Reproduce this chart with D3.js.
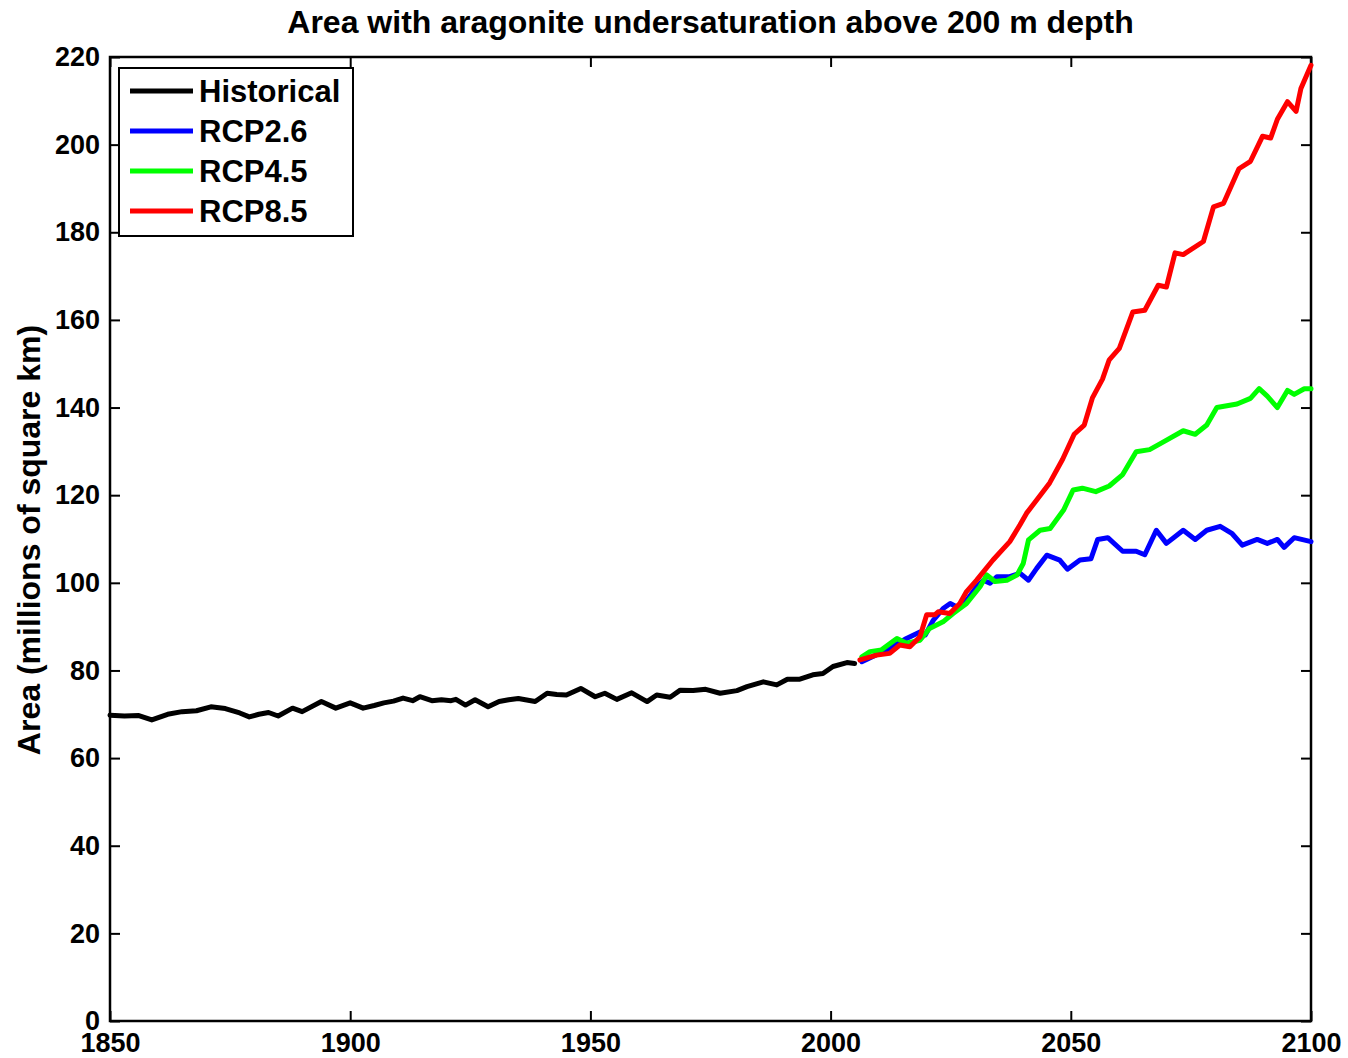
<!DOCTYPE html>
<html>

<head>
  <meta charset="utf-8">
  <title>Aragonite undersaturation area</title>
  <style>
    body { margin: 0; background: #fff; }
    text { font-family: "Liberation Sans", Arial, sans-serif; font-weight: bold; fill: #000; }
  </style>
</head>

<body>
  <script src="https://d3js.org/d3.v7.min.js"></script>
  <script>
    // values: [year, millions of square km]
    var historical = [
      [1850, 69.8], [1853, 69.6], [1856, 69.7], [1858.7, 68.7], [1862, 70.0], [1865, 70.6],
      [1868, 70.8], [1871, 71.7], [1874, 71.3], [1877, 70.3], [1879, 69.4], [1881, 70.0],
      [1883, 70.4], [1885, 69.6], [1888, 71.4], [1890, 70.6], [1894, 72.9], [1897, 71.4],
      [1900, 72.6], [1902.7, 71.4], [1905, 72.0], [1907, 72.6], [1909, 73.0], [1911, 73.7],
      [1913, 73.1], [1914.5, 74.0], [1917, 73.1], [1919, 73.3], [1921, 73.1], [1922, 73.4],
      [1924, 72.1], [1926, 73.3], [1928.7, 71.7], [1931, 72.9], [1933, 73.3], [1935, 73.6],
      [1938.5, 72.9], [1941, 74.8], [1943, 74.5], [1945, 74.4], [1948, 75.9], [1951, 74.0],
      [1953, 74.8], [1955.5, 73.4], [1958.6, 74.9], [1961.8, 72.9], [1963.8, 74.4], [1966.6, 73.9],
      [1968.7, 75.5], [1971.4, 75.4], [1974, 75.7], [1977, 74.8], [1980.5, 75.4], [1982.6, 76.3],
      [1986, 77.4], [1988.8, 76.7], [1991, 78.0], [1993.6, 78.0], [1996.3, 79.0], [1998.4, 79.3],
      [2000.5, 80.9], [2003.4, 81.8], [2005, 81.6]
    ];
    var rcp26 = [
      [2006.5, 82.0], [2011.7, 84.7], [2015.8, 87.3], [2018.6, 88.8], [2019.7, 88.1], [2021.4, 91.5],
      [2023.5, 94.2], [2024.9, 95.3], [2026.3, 94.5], [2028.4, 96.1], [2030.4, 99.1], [2031.8, 100.6],
      [2033.2, 99.9], [2034.6, 101.4], [2037.3, 101.4], [2039.4, 102.2], [2041.2, 100.6], [2042.9, 103.3],
      [2045, 106.3], [2047.7, 105.2], [2049.3, 103.1], [2051.9, 105.2], [2054.2, 105.5], [2055.6, 109.9],
      [2057.7, 110.3], [2060.8, 107.2], [2063.6, 107.2], [2065.4, 106.4], [2067.8, 112.0], [2069.9, 109.0],
      [2073.4, 112.0], [2075.9, 109.9], [2078.3, 112.0], [2081.1, 112.9], [2083.6, 111.2], [2085.7, 108.6],
      [2088.8, 109.9], [2090.9, 109.0], [2093, 109.9], [2094.4, 108.1], [2096.5, 110.3], [2100, 109.4]
    ];
    var rcp45 = [
      [2006.5, 83.1], [2008.2, 84.3], [2010.6, 84.7], [2013.8, 87.3], [2015.8, 86.2], [2018.6, 86.9],
      [2020.6, 89.6], [2023.4, 91.1], [2025.5, 93.0], [2028.3, 95.3], [2031.1, 99.1], [2032.5, 101.8],
      [2034.2, 100.3], [2036.7, 100.6], [2038.8, 101.8], [2040.1, 104.4], [2041.2, 109.8], [2043.6, 112.0],
      [2045.7, 112.4], [2048.5, 116.6], [2050.5, 121.2], [2052.4, 121.6], [2055.2, 120.8], [2058, 122.1],
      [2060.8, 124.7], [2063.6, 129.9], [2066.4, 130.4], [2069.2, 132.1], [2073.4, 134.7], [2075.9, 133.9],
      [2078.3, 136.0], [2080.4, 140.0], [2084.6, 140.8], [2087.4, 142.1], [2089.2, 144.3], [2090.9, 142.6],
      [2093, 140.0], [2095.1, 143.9], [2096.5, 143.0], [2098.6, 144.3], [2100, 144.3]
    ];
    var rcp85 = [
      [2006.1, 82.4], [2009.6, 83.5], [2012.3, 83.9], [2014.4, 85.8], [2016.5, 85.4], [2018.6, 87.7],
      [2020, 92.7], [2021.7, 92.7], [2022.4, 93.4], [2024.8, 93.0], [2026.9, 95.3], [2028.3, 98.0],
      [2030.4, 100.6], [2033.8, 105.2], [2037.3, 109.4], [2039.4, 113.2], [2040.8, 115.9], [2042.9, 118.9],
      [2045.6, 122.8], [2048.3, 128.2], [2050.7, 133.9], [2052.8, 136.0], [2054.5, 142.2], [2056.6, 146.5],
      [2058, 150.9], [2060.1, 153.5], [2062.9, 161.8], [2065.4, 162.2], [2068.2, 167.9], [2069.9, 167.5],
      [2071.7, 175.3], [2073.4, 174.9], [2077.6, 177.9], [2079.7, 185.8], [2081.8, 186.6], [2085, 194.5],
      [2087.4, 196.2], [2089.9, 201.9], [2091.6, 201.5], [2093, 205.8], [2095.1, 209.8], [2096.9, 207.6],
      [2097.9, 212.8], [2100, 218.1]
    ];

    var seriesNames = ["Historical", "RCP2.6", "RCP4.5", "RCP8.5"];
    var seriesColors = ["#000000", "#0000ff", "#00ff00", "#ff0000"];
    var xTicks = [1850, 1900, 1950, 2000, 2050, 2100];
    var yTicks = [0, 20, 40, 60, 80, 100, 120, 140, 160, 180, 200, 220];

    var width = 1348, height = 1058;
    var pLeft = 110, pRight = 1311, pTop = 57, pBottom = 1021;

    var svg = d3.select("body").append("svg")
      .attr("width", width).attr("height", height);

    var x = d3.scaleLinear().domain([1850, 2100]).range([pLeft, pRight]);
    var y = d3.scaleLinear().domain([0, 220]).range([pBottom, pTop]);

    // axes (ticks point inwards, like matlab)
    var fs = "27px";
    var gl = svg.append("g").attr("transform", "translate(" + pLeft + ",0)")
      .call(d3.axisLeft(y).tickValues(yTicks).tickSizeInner(-10).tickSizeOuter(0).tickPadding(10));
    var gb = svg.append("g").attr("transform", "translate(0," + pBottom + ")")
      .call(d3.axisBottom(x).tickValues(xTicks).tickFormat(d3.format("d")).tickSizeInner(-10).tickSizeOuter(0).tickPadding(12));
    var gr = svg.append("g").attr("transform", "translate(" + pRight + ",0)")
      .call(d3.axisRight(y).tickValues(yTicks).tickSizeInner(-10).tickSizeOuter(0).tickFormat(""));
    var gt = svg.append("g").attr("transform", "translate(0," + pTop + ")")
      .call(d3.axisTop(x).tickValues(xTicks).tickSizeInner(-10).tickSizeOuter(0).tickFormat(""));

    [gl, gb, gr, gt].forEach(function(g) {
      g.select(".domain").remove();
      g.selectAll(".tick line").attr("stroke", "#000").attr("stroke-width", 2);
      g.selectAll(".tick text").attr("font-size", fs)
        .attr("font-family", "Liberation Sans, Arial, sans-serif").attr("font-weight", "bold");
    });

    svg.append("rect")
      .attr("x", pLeft).attr("y", pTop)
      .attr("width", pRight - pLeft).attr("height", pBottom - pTop)
      .attr("fill", "none").attr("stroke", "#000").attr("stroke-width", 2.5);

    // lines
    var line = d3.line().x(function(d) { return x(d[0]); }).y(function(d) { return y(d[1]); });
    var allSeries = [historical, rcp26, rcp45, rcp85];
    svg.append("g").selectAll("path")
      .data(allSeries)
      .enter().append("path")
      .attr("d", line)
      .attr("fill", "none")
      .attr("stroke", function(d, i) { return seriesColors[i]; })
      .attr("stroke-width", 5)
      .attr("stroke-linejoin", "round")
      .attr("stroke-linecap", "round");

    // title + y label
    svg.append("text")
      .attr("x", (pLeft + pRight) / 2).attr("y", 33)
      .attr("text-anchor", "middle")
      .attr("font-size", "32px")
      .text("Area with aragonite undersaturation above 200 m depth");

    svg.append("text")
      .attr("transform", "translate(40,540) rotate(-90)")
      .attr("text-anchor", "middle")
      .attr("font-size", "32px")
      .text("Area (millions of square km)");

    // legend
    var lg = svg.append("g");
    lg.append("rect")
      .attr("x", 119).attr("y", 68).attr("width", 234).attr("height", 168)
      .attr("fill", "#fff").attr("stroke", "#000").attr("stroke-width", 2);
    var item = lg.selectAll(".item").data(seriesNames).enter().append("g")
      .attr("class", "item")
      .attr("transform", function(d, i) { return "translate(0," + (91 + i * 40) + ")"; });
    item.append("line")
      .attr("x1", 130).attr("x2", 193)
      .attr("stroke", function(d, i) { return seriesColors[i]; })
      .attr("stroke-width", 5);
    item.append("text")
      .attr("x", 199).attr("dy", "0.36em")
      .attr("font-size", "31px")
      .text(function(d) { return d; });
  </script>
</body>

</html>
